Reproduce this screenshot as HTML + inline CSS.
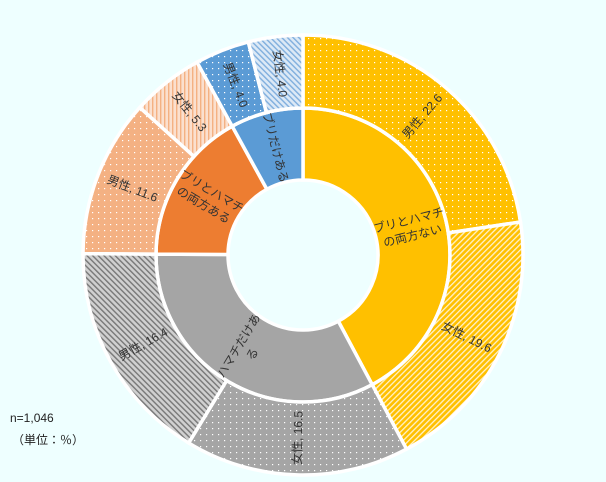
<!DOCTYPE html>
<html><head><meta charset="utf-8"><style>
body{margin:0;background:#EEFFFF;}
svg{display:block;font-family:"Liberation Sans","Noto Sans CJK JP",sans-serif;}
</style></head><body>
<svg width="606" height="482" viewBox="0 0 606 482">
<defs>
<pattern id="pDotY" width="6" height="6" patternUnits="userSpaceOnUse"><rect width="6" height="6" fill="#FFC000"/><rect x="2" y="2" width="1.2" height="1.2" fill="#fff"/></pattern>
<pattern id="pLineY" width="4" height="4" patternUnits="userSpaceOnUse" patternTransform="rotate(45)"><rect width="4" height="4" fill="#FFC000"/><rect width="1.3" height="4" fill="#fff" opacity="0.8"/></pattern>
<pattern id="pDotG" width="6" height="6" patternUnits="userSpaceOnUse"><rect width="6" height="6" fill="#A5A5A5"/><rect x="2" y="2" width="1.2" height="1.2" fill="#fff"/></pattern>
<pattern id="pLineG" width="4" height="4" patternUnits="userSpaceOnUse" patternTransform="rotate(-45)"><rect width="4" height="4" fill="#D0D0D0"/><rect width="1.4" height="4" fill="#777"/></pattern>
<pattern id="pDotO" width="6" height="6" patternUnits="userSpaceOnUse"><rect width="6" height="6" fill="#F4B183"/><rect x="2" y="2" width="1.2" height="1.2" fill="#fff"/></pattern>
<pattern id="pLineO" width="4" height="4" patternUnits="userSpaceOnUse"><rect width="4" height="4" fill="#FBE0CF"/><rect width="1.4" height="4" fill="#F4B183"/></pattern>
<pattern id="pDotB" width="6" height="6" patternUnits="userSpaceOnUse"><rect width="6" height="6" fill="#5B9BD5"/><rect x="2" y="2" width="1.2" height="1.2" fill="#fff"/></pattern>
<pattern id="pLineB" width="4" height="4" patternUnits="userSpaceOnUse" patternTransform="rotate(-45)"><rect width="4" height="4" fill="#DCE9F6"/><rect width="1.4" height="4" fill="#7FAEDD"/></pattern>
</defs>
<g id="rings"></g>
<text x="10" y="422" font-size="12" fill="#222">n=1,046</text>
<text x="12" y="444" font-size="12" fill="#222">（単位：％）</text>
</svg>
<script>
const innerLabels = [["ブリとハマチ","の両方ない"],["ハマチだけあ","る"],["ブリとハマチ","の両方ある"],["ブリだけある"]];
const innerColors = ["#FFC000","#A5A5A5","#ED7D31","#5B9BD5"];
const outerLabels = ["男性","女性","女性","男性","男性","女性","男性","女性"];
const outerValues = [22.6,19.6,16.5,16.4,11.6,5.3,4.0,4.0];
const outerFills = ["url(#pDotY)","url(#pLineY)","url(#pDotG)","url(#pLineG)","url(#pDotO)","url(#pLineO)","url(#pDotB)","url(#pLineB)"];
const cx=303,cy=255,r0=75,r1=147,r2=220;
const NS="http://www.w3.org/2000/svg";
const g=document.getElementById('rings');
const total=outerValues.reduce((a,b)=>a+b,0);
const innerValues=[0,1,2,3].map(i=>outerValues[2*i]+outerValues[2*i+1]);
function pt(r,a){const t=a/total*2*Math.PI;return [cx+r*Math.sin(t),cy-r*Math.cos(t)];}
function arc(ri,ro,a0,a1){
  const large=(a1-a0)/total>0.5?1:0;
  const p0=pt(ro,a0),p1=pt(ro,a1),p2=pt(ri,a1),p3=pt(ri,a0);
  return `M${p0}A${ro},${ro} 0 ${large} 1 ${p1}L${p2}A${ri},${ri} 0 ${large} 0 ${p3}Z`;
}
function rot(mid){let d=mid/total*360-90;if(d>90)d-=180;return d;}
function addSeg(ri,ro,a0,a1,fill,name){
  const p=document.createElementNS(NS,'path');
  p.setAttribute('d',arc(ri,ro,a0,a1));p.setAttribute('fill',fill);
  p.setAttribute('stroke','#fff');p.setAttribute('stroke-width','3.5');
  
  
  g.appendChild(p);
}
function addText(r,mid,lines,name){
  const [x,y]=pt(r,mid);
  const t=document.createElementNS(NS,'text');
  t.setAttribute('transform',`translate(${x},${y}) rotate(${rot(mid)})`);
  t.setAttribute('text-anchor','middle');t.setAttribute('font-size','12');t.setAttribute('fill','#333');
  
  
  lines.forEach((l,i)=>{const s=document.createElementNS(NS,'tspan');s.setAttribute('x',0);
    s.setAttribute('y',(i-(lines.length-1)/2)*16+4);s.textContent=l;t.appendChild(s);});
  g.appendChild(t);
}
let a=0;
innerValues.forEach((v,i)=>{addSeg(r0,r1,a,a+v,innerColors[i],'inner-segment-'+(i+1));a+=v;});
a=0;
outerValues.forEach((v,i)=>{addSeg(r1,r2,a,a+v,outerFills[i],'outer-segment-'+(i+1));a+=v;});
a=0;
innerValues.forEach((v,i)=>{addText(111,a+v/2,innerLabels[i],'inner-label-'+(i+1));a+=v;});
a=0;
outerValues.forEach((v,i)=>{addText(183,a+v/2,[outerLabels[i]+", "+v.toFixed(1)],'outer-label-'+(i+1));a+=v;});
</script>
</body></html>
